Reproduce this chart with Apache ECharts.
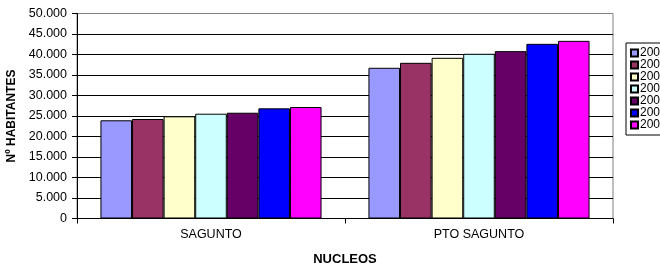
<!DOCTYPE html>
<html>
<head>
<meta charset="utf-8">
<script src="https://cdn.jsdelivr.net/npm/echarts@6/dist/echarts.min.js"></script>
<style>
  html, body { margin: 0; padding: 0; background: #fff; }
  #chart { width: 660px; height: 268px; }
</style>
</head>
<body>
<div id="chart"></div>
<script>
// datos
var nucleos = ['SAGUNTO', 'PTO SAGUNTO'];
var years = ['2000', '2001', '2002', '2003', '2004', '2005', '2006'];
var colors = ['#9999FF', '#993366', '#FFFFCC', '#CCFFFF', '#660066', '#0000FF', '#FF00FF'];
// habitantes por año: [SAGUNTO, PTO SAGUNTO]
var v2000 = [23950, 36760];
var v2001 = [24270, 37970];
var v2002 = [24930, 39190];
var v2003 = [25560, 40170];
var v2004 = [25800, 40820];
var v2005 = [26870, 42600];
var v2006 = [27190, 43330];
var values = [v2000, v2001, v2002, v2003, v2004, v2005, v2006];

var FONT = '"Liberation Sans", Arial, sans-serif';

function fmt(v) {
    return String(v).replace(/\B(?=(\d{3})+(?!\d))/g, '.');
}

var series = [];
for (var i = 0; i < years.length; i++) {
    series.push({
        name: years[i],
        type: 'bar',
        data: values[i],
        barGap: '0%',
        barCategoryGap: '17.5%',
        itemStyle: { color: colors[i], borderColor: '#000', borderWidth: 1 }
    });
}

// lineas de division: la de arriba gris (borde del area)
var splitColors = [];
for (var k = 0; k < 10; k++) splitColors.push('#000');
splitColors.push('#808080');

var chart = echarts.init(document.getElementById('chart'), null, { renderer: 'canvas' });
chart.setOption({
    animation: false,
    backgroundColor: '#fff',
    textStyle: { fontFamily: FONT },
    grid: {
        left: 77, right: 47, top: 13.5, bottom: 49.5,
        containLabel: false,
        outerBoundsMode: 'none',
        show: true, borderColor: '#808080', borderWidth: 1, backgroundColor: '#fff'
    },
    legend: {
        orient: 'vertical',
        left: 626, top: 43,
        padding: [4, 30, 4, 4],
        itemGap: 0,
        itemWidth: 7, itemHeight: 7,
        backgroundColor: '#fff',
        borderColor: '#000', borderWidth: 1,
        borderRadius: 0,
        icon: 'rect',
        textStyle: { fontFamily: FONT, fontSize: 12, color: '#000', lineHeight: 12, padding: [0, 0, 0, -3] },
        data: years
    },
    xAxis: {
        type: 'category',
        data: nucleos,
        name: 'NUCLEOS',
        nameLocation: 'middle',
        nameGap: 34,
        nameTextStyle: { fontFamily: FONT, fontSize: 13, fontWeight: 'bold', color: '#000' },
        axisLine: { lineStyle: { color: '#000', width: 1 } },
        axisTick: { show: true, length: 5, lineStyle: { color: '#000' } },
        axisLabel: { fontFamily: FONT, fontSize: 12.5, color: '#000', margin: 10 }
    },
    yAxis: {
        type: 'value',
        min: 0, max: 50000, interval: 5000,
        name: 'Nº HABITANTES',
        nameLocation: 'middle',
        nameGap: 55,
        nameTextStyle: { fontFamily: FONT, fontSize: 12, fontWeight: 'bold', color: '#000' },
        axisLine: { show: true, lineStyle: { color: '#000', width: 1 } },
        axisTick: { show: true, length: 5, lineStyle: { color: '#000' } },
        axisLabel: { fontFamily: FONT, fontSize: 12.5, color: '#000', margin: 10, formatter: fmt },
        splitLine: { show: true, lineStyle: { color: splitColors, width: 1 } }
    },
    series: series
});
</script>
</body>
</html>
